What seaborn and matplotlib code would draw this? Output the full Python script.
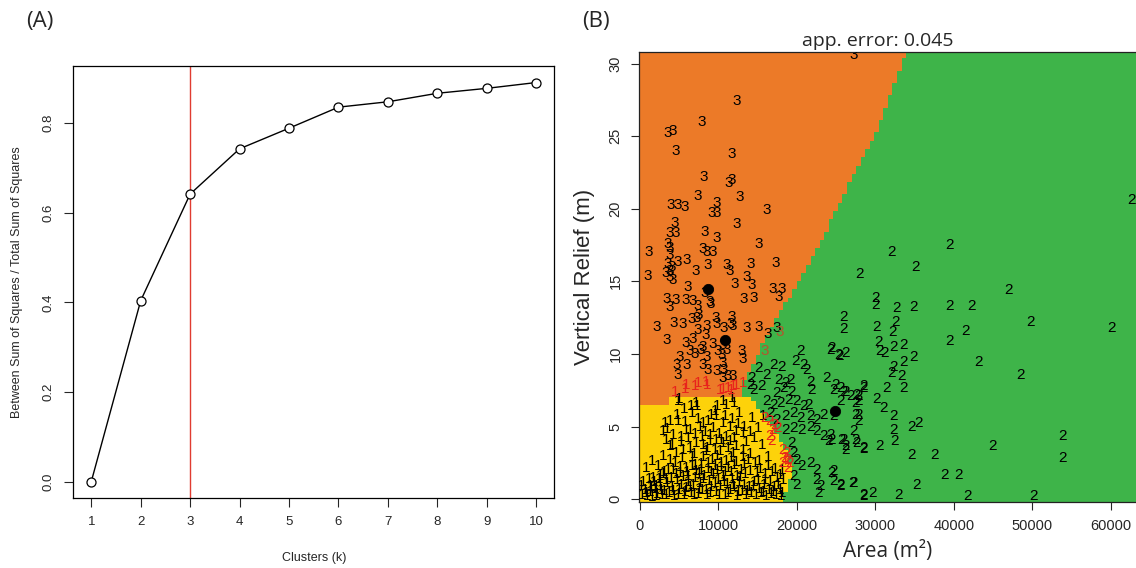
import numpy as np
import seaborn as sns
import matplotlib.pyplot as plt
from matplotlib.colors import ListedColormap

# panel A: elbow curve
k_values = [1, 2, 3, 4, 5, 6, 7, 8, 9, 10]
ss_ratio = [0.0, 0.404, 0.642, 0.743, 0.789, 0.836, 0.848, 0.867, 0.878, 0.891]
chosen_k = 3

# panel B: decision regions (boundary)
# orange / green border: x position of the edge for a given relief
edge_y = [7.5, 9.4, 12.1, 14.4, 17.2, 20.4, 22.9, 25.2, 30.8]
edge_x = [12800, 14500, 17000, 19600, 22500, 25500, 27600, 30200, 34000]
# right edge of the yellow zone
yel_y = [0.0, 0.7, 1.6, 2.5, 3.6, 4.8, 5.7, 6.6, 7.2]
yel_x = [18300, 18700, 19400, 19200, 18300, 17000, 15800, 14700, 13200]
yel_top_left = 6.5    # top of yellow zone for small areas
yel_top = 7.1
yel_step_x = 3800

# cluster centres
centres = [(8690, 14.46), (10800, 10.95), (24800, 6.07)]

# observations, (area, relief), correctly classified
c3_pts = [(12290, 27.4), (7840, 26.0), (3600, 25.2), (4150, 25.35), (4580, 24.0), (11650, 23.8),
          (8180, 22.2), (11740, 22.0), (11360, 21.75), (7420, 20.9), (12710, 20.8), (3940, 20.25),
          (4880, 20.25), (5720, 20.1), (9830, 20.4), (16190, 19.9), (9110, 19.7), (9750, 19.7),
          (4450, 19.0), (12290, 18.95), (3810, 18.3), (4580, 18.3), (8260, 18.4), (9830, 18.0),
          (3600, 17.6), (3810, 17.3), (15170, 17.55), (1070, 17.0), (7970, 17.2), (8470, 17.0),
          (9330, 17.0), (3810, 16.8), (4880, 16.35), (5930, 16.5), (3600, 16.2), (4030, 16.0),
          (3810, 15.7), (7120, 15.7), (8690, 16.1), (11100, 16.1), (11440, 15.7), (14070, 16.2),
          (17280, 16.25), (980, 15.4), (3300, 15.55), (3810, 15.3), (4240, 15.1), (13560, 15.3),
          (14190, 14.75), (12070, 14.8), (6150, 14.6), (8260, 14.2), (16950, 14.5), (18090, 14.46),
          (17710, 13.95), (3480, 13.8), (4570, 13.7), (5840, 13.7), (6790, 13.65), (13210, 13.77),
          (14490, 13.88), (3810, 13.26), (7420, 13.3), (8890, 13.6), (8980, 13.45), (7550, 12.7),
          (7200, 12.5), (6570, 12.4), (5510, 12.07), (4320, 12.16), (2120, 11.84), (9660, 12.5),
          (11650, 12.57), (11520, 12.07), (8470, 11.9), (7330, 11.65), (8390, 11.3), (9790, 12.07),
          (10720, 11.77), (11810, 11.93), (13560, 11.77), (15170, 11.84), (16320, 11.38),
          (17370, 11.77), (3390, 10.97), (5850, 10.74), (6790, 11.0), (10600, 10.6), (11000, 10.3),
          (12920, 10.2), (8000, 10.5), (9300, 10.7), (6350, 10.2), (7000, 10.0), (7700, 10.3),
          (5080, 9.8), (4660, 9.25), (4880, 8.56), (5930, 9.25), (8470, 9.82), (8050, 9.25),
          (8690, 8.9), (9750, 8.79), (10380, 9.94), (10510, 9.37), (10670, 8.9), (9940, 10.17),
          (13090, 9.64), (10600, 8.34), (11230, 8.45), (11870, 8.5), (27190, 30.57)]

c2_pts = [(32070, 17.04), (39390, 17.5), (35160, 16.0), (27920, 15.5), (47010, 14.4), (30080, 13.84),
          (30040, 13.38), (32700, 13.15), (32620, 12.23), (32200, 11.54), (34820, 13.26), (39480, 13.3),
          (42240, 13.3), (49730, 12.23), (60030, 11.77), (25920, 12.57), (25920, 11.7), (30160, 11.84),
          (41510, 11.59), (39390, 10.92), (30370, 10.85), (30580, 10.17), (32270, 10.51), (33630, 10.63),
          (31220, 10.05), (24450, 10.4), (25410, 9.87), (26140, 10.05), (32270, 9.13), (33630, 9.41),
          (34900, 9.82), (43080, 9.41), (48500, 8.56), (32070, 8.68), (33340, 8.45), (31440, 7.65),
          (33550, 7.65), (24870, 7.87), (25920, 7.41), (26770, 7.07), (27620, 7.19), (28460, 7.65),
          (27830, 6.73), (25500, 6.73), (30160, 6.89), (31000, 6.27), (24650, 5.69), (27410, 5.81),
          (27830, 5.35), (32270, 5.69), (32270, 4.78), (32490, 3.98), (34610, 5.0), (35450, 5.24),
          (27190, 4.66), (27410, 4.09), (25920, 4.09), (26140, 3.4), (28460, 3.45), (30580, 3.63),
          (24450, 4.09), (34610, 3.06), (37570, 3.06), (44980, 3.63), (53800, 4.37), (53800, 2.81),
          (38840, 1.69), (40530, 1.69), (24650, 1.91), (24650, 1.22), (25500, 0.88), (27120, 1.11),
          (35250, 1.0), (28460, 0.24), (29660, 0.43), (32910, 0.31), (41680, 0.24), (50150, 0.24),
          (62600, 20.6), (20420, 10.17), (24230, 10.28), (25290, 9.94), (15120, 9.02), (16190, 8.56),
          (17030, 9.25), (18090, 9.13), (19780, 9.48), (20840, 9.25), (21270, 8.9), (14280, 8.34),
          (14070, 7.87), (14490, 7.53), (15550, 7.76), (17660, 8.22), (18510, 7.99), (19150, 8.22),
          (18300, 7.65), (19360, 7.41), (17450, 7.3), (21690, 8.1), (21910, 7.53), (23810, 8.34),
          (24650, 7.53), (25500, 7.65), (26140, 7.41), (27830, 7.07), (28460, 7.76),
          (27410, 6.62), (27830, 5.81), (16190, 6.73), (17030, 6.5), (17880, 6.62), (18930, 6.84),
          (20000, 6.73), (20840, 6.38), (21470, 6.5), (16610, 5.93), (17450, 5.47), (18510, 5.69),
          (19570, 5.93), (20420, 5.58), (21690, 5.69), (22540, 5.47), (23380, 5.81), (18510, 4.78),
          (19570, 4.9), (20640, 4.78), (21690, 5.0), (22540, 4.66), (23380, 4.32), (24230, 4.44),
          (24020, 3.98), (25720, 4.09), (26140, 3.63), (27620, 3.86), (28460, 3.52), (19360, 3.86),
          (19570, 3.18), (20000, 2.72), (20640, 2.26), (21690, 2.49), (22540, 2.03), (19570, 1.57),
          (20000, 1.0), (22540, 1.34), (22960, 0.88), (22750, 0.43), (24450, 1.8), (25500, 1.0),
          (27190, 1.11), (28460, 0.31)]

c1_pts = [(4880, 6.73), (7120, 6.62), (7330, 6.38), (10670, 6.73), (11020, 6.5), (3180, 5.24),
          (3810, 5.35), (4880, 5.35), (2970, 4.66), (5930, 4.78), (6350, 4.78), (8050, 5.24),
          (8690, 5.35), (9110, 5.81), (9530, 6.04), (9750, 5.69), (10600, 5.24), (11440, 5.0),
          (12290, 4.66), (13140, 4.55), (850, 2.15), (3390, 4.09), (3810, 3.63), (2970, 2.94),
          (3810, 2.72), (4660, 3.18), (5510, 3.4), (6350, 3.52), (7200, 3.86), (8050, 3.75),
          (8890, 3.98), (9750, 4.09), (10600, 3.86), (11440, 3.98), (12290, 3.63), (13140, 3.4),
          (1700, 1.46), (2540, 1.57), (3390, 1.34), (2120, 0.88), (1270, 0.88), (4240, 2.03),
          (5080, 1.8), (5930, 2.15), (6990, 2.37), (7840, 2.03), (8690, 2.49), (9530, 2.26),
          (10380, 2.49), (11230, 2.15), (12070, 2.37), (12920, 2.03), (14300, 5.6), (15100, 4.9),
          (14600, 4.2), (15600, 3.7), (14100, 3.1), (15200, 2.6), (16300, 2.9), (17450, 1.46),
          (17880, 1.69), (18300, 1.34), (16800, 1.9), (15900, 1.3), (13800, 2.7), (14900, 1.8),
          (15760, 5.7), (350, 0.3), (720, 0.6), (980, 0.2), (1340, 0.5), (1610, 0.15), (1930, 0.7),
          (2260, 0.35), (2580, 0.9), (2810, 0.25), (3150, 0.55), (3520, 1.1), (3770, 0.4),
          (4080, 0.8), (4420, 0.2), (4710, 1.3), (5030, 0.6), (5290, 1.0), (5620, 0.3), (5880, 0.75),
          (6170, 1.2), (6490, 0.45), (6730, 0.95), (7060, 1.45), (7380, 0.35), (7650, 1.1),
          (7920, 0.65), (8240, 1.6), (8530, 0.25), (8810, 1.25), (9080, 0.8), (9370, 1.75),
          (9690, 0.5), (9950, 1.3), (10240, 0.9), (10560, 1.55), (10820, 0.3), (11130, 1.05),
          (11470, 0.6), (11760, 1.4), (12050, 0.85), (12380, 0.2), (12640, 1.2), (12970, 0.55),
          (13280, 1.0), (13590, 0.3), (13870, 0.8), (14210, 0.45), (14560, 1.15), (14830, 0.25),
          (15170, 0.7), (15480, 0.4), (15790, 0.95), (16120, 0.2), (16440, 0.6), (16760, 0.35),
          (17090, 0.85), (17420, 0.3), (17810, 0.6), (18150, 0.4), (1500, 2.6), (2300, 2.3),
          (3100, 1.9), (4500, 2.5), (5400, 2.8), (6200, 1.6), (6600, 2.9), (7500, 1.7), (8000, 2.9),
          (9100, 1.9), (9900, 3.0), (10800, 1.85), (11600, 2.8), (12400, 1.6), (13300, 2.4),
          (6900, 3.1), (8400, 3.3), (10200, 3.3), (11900, 3.2), (4300, 4.4), (5200, 4.3),
          (7000, 4.5), (7700, 5.0), (8300, 4.6), (9300, 4.9), (10100, 4.5), (11000, 4.3),
          (11800, 5.5), (12700, 5.9), (6700, 5.9), (5600, 6.2), (9900, 6.4), (12000, 6.6),
          (5000, 6.9), (11700, 6.95),
          # the dense low band
          (150, 0.9), (480, 1.2), (830, 0.45), (1150, 1.4), (1420, 0.85), (1780, 1.15), (2050, 0.2),
          (2420, 1.35), (2690, 0.6), (2950, 1.7), (3330, 0.3), (3640, 2.0), (3980, 1.45), (4250, 0.55),
          (4600, 1.75), (4880, 0.3), (5150, 2.2), (5470, 1.5), (5760, 0.5), (6040, 1.9), (6350, 0.85),
          (6610, 2.3), (6880, 0.3), (7230, 1.95), (7510, 0.7), (7790, 2.45), (8070, 1.35), (8380, 0.6),
          (8680, 2.1), (8950, 0.4), (9220, 2.7), (9530, 1.1), (9810, 2.0), (10090, 0.25), (10390, 2.2),
          (10680, 1.2), (10970, 2.6), (11290, 0.4), (11620, 1.9), (11900, 1.0), (12210, 2.55),
          (12510, 0.5), (12800, 1.5), (13120, 2.9), (13430, 1.7), (13720, 0.55), (14040, 1.95),
          (14380, 0.9), (14700, 2.5), (15020, 1.3), (15330, 2.1), (15650, 0.5), (15980, 1.7),
          (16280, 2.3), (16600, 1.15), (16950, 0.5), (17250, 2.1), (17600, 1.0), (17950, 0.2),
          (18100, 2.0), (3500, 4.8), (4100, 3.7), (4700, 5.8), (5300, 3.9), (5800, 5.3), (6200, 4.2),
          (6500, 6.4), (7400, 5.5), (7900, 4.3), (8600, 3.5), (9000, 4.4), (9600, 3.4), (10400, 4.1),
          (10900, 5.7), (11300, 3.5), (12000, 4.2), (12500, 5.2), (13500, 3.9), (13300, 5.0),
          (14000, 4.6)]

# misclassified observations (drawn in red)
red1_pts = [(4450, 7.41), (5720, 7.58), (5930, 7.87), (6990, 7.76), (7420, 7.99), (8470, 8.1),
            (8560, 7.87), (10170, 7.53), (10670, 7.58), (11230, 7.65), (11650, 7.53), (11870, 7.76),
            (12290, 7.87), (13140, 7.99)]
red2_pts = [(15880, 5.58), (16520, 5.35), (17150, 5.12), (17590, 4.9), (16950, 4.78), (16520, 4.32),
            (16710, 3.98), (18220, 3.41), (18640, 3.18), (18420, 2.83), (18860, 2.72), (19060, 2.49),
            (18220, 2.49), (18860, 2.15)]
red3_pts = [(17790, 11.54), (15880, 10.17)]

region_colors = ["#fdd20a", "#3eb449", "#ec7a28"]   # 1 yellow, 2 green, 3 orange

sns.set_style("ticks")
plt.rcParams['font.family'] = ['Liberation Sans', 'DejaVu Sans']

fig = plt.figure(figsize=(11.36, 5.68), dpi=100)
axA = fig.add_axes([0.0647, 0.1241, 0.423, 0.759])
axB = fig.add_axes([0.5627, 0.1162, 0.4373, 0.7923])

# ---- panel A
sns.lineplot(x=k_values, y=ss_ratio, ax=axA, color="black", lw=1, marker="o",
             markersize=6.5, markerfacecolor="white", markeredgecolor="black",
             markeredgewidth=0.9, zorder=3)
axA.axvline(chosen_k, color="#e03c31", lw=1, zorder=2)
axA.set_xlim(0.64, 10.36)
axA.set_ylim(-0.0357, 0.927)
axA.set_xticks(k_values)
axA.set_yticks([0.0, 0.2, 0.4, 0.6, 0.8])
axA.set_yticklabels(["0.0", "0.2", "0.4", "0.6", "0.8"], rotation=90, va="center")
axA.tick_params(axis="both", labelsize=9.5, length=6.5, width=0.8, pad=7)
axA.set_xlabel("Clusters (k)", fontsize=9, labelpad=17)
axA.set_ylabel("Between Sum of Squares / Total Sum of Squares", fontsize=9, labelpad=14)
for s in axA.spines.values():
    s.set_linewidth(0.9)
    s.set_color("black")

# ---- panel B
gx = np.linspace(0, 63200, 110)
gy = np.linspace(-0.2, 30.8, 110)
X, Y = np.meshgrid(gx, gy)
yel_top_x = np.where(X < yel_step_x, yel_top_left, yel_top)
is_yellow = (Y < yel_top_x) & (X < np.interp(Y, yel_y, yel_x))
is_orange = (~is_yellow) & (X < np.interp(Y, edge_y, edge_x))
region = np.where(is_yellow, 0, np.where(is_orange, 2, 1))
axB.pcolormesh(gx, gy, region, cmap=ListedColormap(region_colors), vmin=0, vmax=2,
               shading="nearest", zorder=0)

label_font = dict(fontsize=11, ha="center", va="center", family=["Liberation Sans"], clip_on=True)
for pts, lab, col in [(c1_pts, "1", "black"), (c3_pts, "3", "black"), (c2_pts, "2", "black"),
                      (red1_pts, "1", "#e8231c"), (red2_pts, "2", "#e8231c"),
                      (red3_pts, "3", "#b5552d")]:
    for x, y in pts:
        axB.text(x, y, lab, color=col, **label_font)

sns.scatterplot(x=[c[0] for c in centres], y=[c[1] for c in centres], ax=axB,
                color="black", s=55, edgecolor="black", zorder=5)

axB.set_xlim(-80, 63200)
axB.set_ylim(-0.2, 30.8)
axB.set_xticks([0, 10000, 20000, 30000, 40000, 50000, 60000])
axB.set_xticklabels(["0", "10000", "20000", "30000", "40000", "50000", "60000"])
axB.set_yticks([0, 5, 10, 15, 20, 25, 30])
axB.set_yticklabels(["0", "5", "10", "15", "20", "25", "30"], rotation=90, va="center")
axB.tick_params(axis="both", labelsize=10.5, length=6, width=0.8, pad=6)
axB.spines["right"].set_visible(False)
for s in ["left", "bottom", "top"]:
    axB.spines[s].set_linewidth(0.9)
    axB.spines[s].set_color("#222222")
axB.set_xlabel("Area (m²)", fontsize=15, family=["Open Sans"], labelpad=6)
axB.set_ylabel("Vertical Relief (m)", fontsize=16, labelpad=10)
axB.set_title("app. error: 0.045", fontsize=14, family=["Open Sans"], x=0.48, pad=4)

fig.text(40 / 1136, 1 - 22 / 568, "(A)", fontsize=16, family=["Open Sans"], ha="center", va="center")
fig.text(596 / 1136, 1 - 22 / 568, "(B)", fontsize=16, family=["Open Sans"], ha="center", va="center")

fig.savefig("out.png", dpi=100, facecolor="white")
